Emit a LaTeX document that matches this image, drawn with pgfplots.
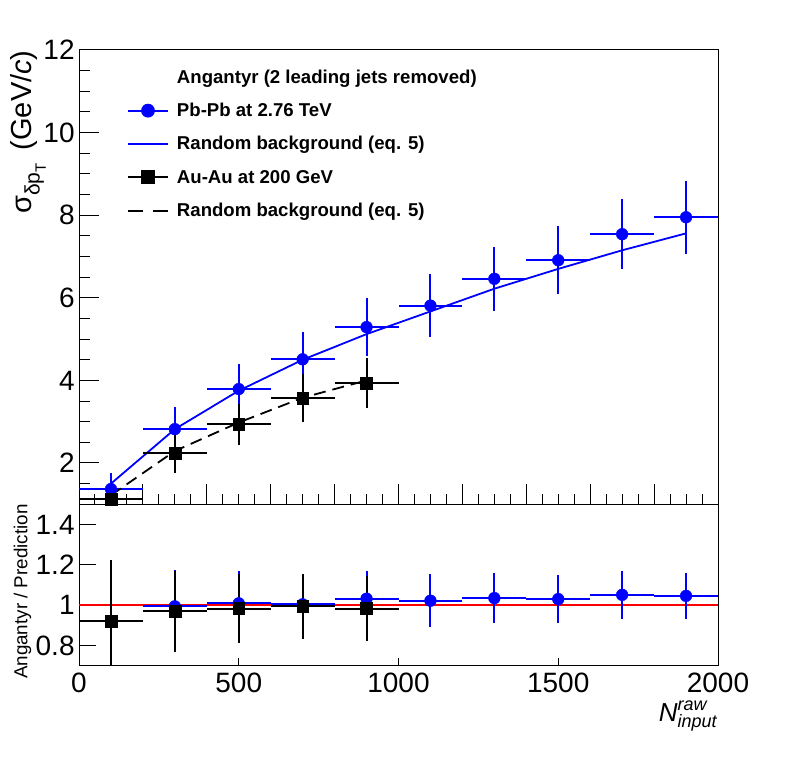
\documentclass[border=0pt]{standalone}
\usepackage{fontspec}
\setmainfont{Liberation Sans}
\usepackage{pgfplots}
\pgfplotsset{compat=1.18}
\usepackage{pgfplotstable}

\pgfplotstableread{
x y ex ey
100 1.37 100 0.38
300 2.82 100 0.54
500 3.79 100 0.61
700 4.51 100 0.66
900 5.29 100 0.70
1100 5.81 100 0.77
1300 6.46 100 0.77
1500 6.91 100 0.83
1700 7.54 100 0.85
1900 7.95 100 0.88
}\bluedata
\pgfplotstableread{
x y ex ey
100 1.13 100 0.33
300 2.23 100 0.47
500 2.94 100 0.50
700 3.57 100 0.58
900 3.94 100 0.61
}\blackdata
\pgfplotstableread{
x y
100 1.50
300 2.82
500 3.75
700 4.50
900 5.12
1100 5.67
1300 6.22
1500 6.70
1700 7.15
1900 7.56
}\bluecurve
\pgfplotstableread{
x y
100 1.22
300 2.29
500 2.98
700 3.58
900 4.00
}\blackcurve
\pgfplotstableread{
x y ex ey
300 0.995 100 0.18
500 1.010 100 0.16
700 1.005 100 0.147
900 1.033 100 0.137
1100 1.023 100 0.13
1300 1.036 100 0.125
1500 1.031 100 0.12
1700 1.052 100 0.117
1900 1.047 100 0.114
}\blueratio
\pgfplotstableread{
x y ex ey
100 0.922 100 0.30
300 0.971 100 0.20
500 0.984 100 0.17
700 0.995 100 0.16
900 0.984 100 0.16
}\blackratio

\pgfplotsset{
  rootstyle/.style={
    scale only axis, anchor=south west,
    xmin=0, xmax=2000,
    axis line style={line width=0.5pt},
    every tick/.append style={black, line width=0.5pt},
    tick align=inside, tick pos=left,
    /pgf/number format/assume math mode=true,
    ticklabel style={font=\fontsize{14}{14}\selectfont},
    yticklabel style={anchor=east, inner sep=0pt, xshift=-2pt},
  },
  bluepts/.style={blue, line width=1pt, only marks, mark=*, mark size=2.95pt,
    mark options={solid, fill=blue, draw=blue, line width=0.2pt},
    error bars/.cd, x dir=both, x explicit, y dir=both, y explicit,
    error mark=none, error bar style={line width=1pt, blue}, /pgfplots/.cd},
  blackpts/.style={black, line width=1pt, only marks, mark=square*, mark size=2.95pt,
    mark options={solid, fill=black, draw=black, line width=0.2pt},
    error bars/.cd, x dir=both, x explicit, y dir=both, y explicit,
    error mark=none, error bar style={line width=1pt, black}, /pgfplots/.cd},
}

\begin{document}
\begin{tikzpicture}[x=1pt,y=1pt]
\path[use as bounding box] (0,0) rectangle (399,388);

% upper panel
\begin{axis}[rootstyle,
  at={(39.5pt,135.85pt)}, width=319.5pt, height=227.15pt,
  ymin=1, ymax=12,
  xtick={0,200,...,2000}, xticklabels={},
  minor xtick={50,100,...,1950},
  ytick={2,4,...,12},
  minor ytick={1.5,2,...,11.5},
  major tick length=10pt, minor tick length=5.3pt,
  legend style={at={(0.0751,0.9597)}, anchor=north west, draw=none, fill=none,
    inner sep=0pt, outer sep=0pt,
    font=\fontsize{9.3}{9.3}\selectfont\bfseries,
    row sep=7.67pt,
    nodes={inner sep=0pt, text height=7.5pt, text depth=1.5pt},
    /tikz/every odd column/.style={column sep=4pt}},
  legend cell align=left,
  legend image code/.code={\draw[mark repeat=2,mark phase=2,#1] plot coordinates {(0pt,0pt) (10pt,0pt) (20pt,0pt)};},
]
\addlegendimage{empty legend}
\addlegendentry{Angantyr (2 leading jets removed)}
\addlegendimage{blue, line width=1pt, mark=*, mark size=2.95pt, mark options={solid, fill=blue}}
\addlegendentry{Pb-Pb at 2.76 TeV}
\addlegendimage{blue, line width=1pt}
\addlegendentry{Random background (eq. 5)}
\addlegendimage{black, line width=1pt, mark=square*, mark size=2.95pt, mark options={solid, fill=black}}
\addlegendentry{Au-Au at 200 GeV}
\addlegendimage{black, line width=1pt, dash pattern=on 7.5pt off 5pt}
\addlegendentry{Random background (eq. 5)}

\addplot[forget plot, bluepts] table[x=x, y=y, x error=ex, y error=ey] {\bluedata};
\addplot[forget plot, blue, line width=0.9pt] table[x=x, y=y] {\bluecurve};
\addplot[forget plot, blackpts] table[x=x, y=y, x error=ex, y error=ey] {\blackdata};
\addplot[forget plot, black, line width=0.9pt, dash pattern=on 6pt off 3.5pt] table[x=x, y=y] {\blackcurve};
\end{axis}

% lower panel (frame, y ticks, data)
\begin{axis}[rootstyle,
  at={(39.5pt,55pt)}, width=319.5pt, height=80.85pt,
  ymin=0.7, ymax=1.5,
  xtick=\empty,
  ytick={0.8,1,1.2,1.4}, yticklabels={0.8,1,1.2,1.4},
  major tick length=8.5pt,
]
\addplot[red, line width=1pt] coordinates {(0,1) (2000,1)};
\addplot[bluepts] table[x=x, y=y, x error=ex, y error=ey] {\blueratio};
\addplot[blackpts] table[x=x, y=y, x error=ex, y error=ey] {\blackratio};
\end{axis}

% lower panel x ticks
\begin{axis}[rootstyle,
  at={(39.5pt,55pt)}, width=319.5pt, height=80.85pt,
  ymin=0.7, ymax=1.5,
  hide y axis, axis x line*=bottom,
  xtick={0,500,...,2000}, xticklabels={0,500,1000,1500,2000},
  major tick length=4pt,
  xticklabel style={anchor=base, inner sep=0pt, yshift=-13.5pt},
]
\end{axis}

% axis titles
\node[rotate=90, anchor=base east, inner sep=0pt] at (16,363)
  {\fontsize{14.5}{14.5}\selectfont σ\raisebox{-0.5ex}{\fontsize{10.5}{10.5}\selectfont δp\raisebox{-0.55ex}{\fontsize{7.5}{7.5}\selectfont T}}\, (GeV/\textit{c})};
\node[rotate=90, anchor=base east, inner sep=0pt] at (13.7,136)
  {\fontsize{9.4}{9.4}\selectfont Angantyr / Prediction};
\node[anchor=base east, inner sep=0pt] at (358.5,27.3)
  {\fontsize{13}{13}\selectfont\itshape N\/\rlap{\raisebox{5.3pt}{\fontsize{9}{9}\selectfont\itshape raw}}\raisebox{-3.3pt}{\fontsize{9}{9}\selectfont\itshape input}};
\end{tikzpicture}
\end{document}
